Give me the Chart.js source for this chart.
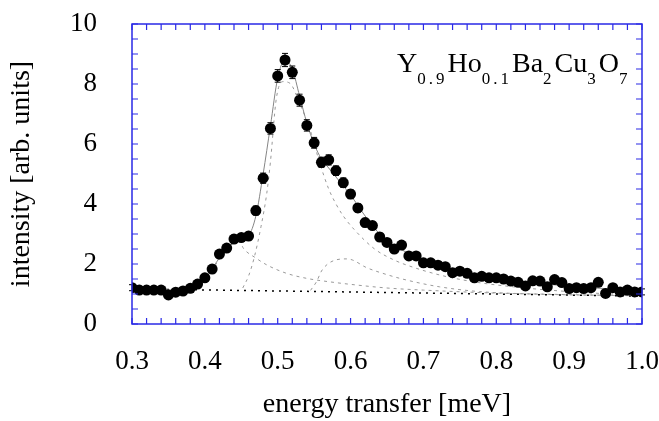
<!DOCTYPE html>
<html>
<head>
<meta charset="utf-8">
<script src="https://cdn.jsdelivr.net/npm/chart.js@4.4.1/dist/chart.umd.min.js"></script>
<style>
  body { margin: 0; background: #fff; }
  #wrap { position: relative; width: 659px; height: 421px; }
  #chart { display: block; }
  #formula {
    position: absolute; left: 397px; top: 49px;
    font-family: 'Liberation Serif', 'Times New Roman', serif;
    font-size: 28px; line-height: 28px; color: #000; white-space: nowrap;
  }
  #formula sub { font-size: 17px; vertical-align: -12px; letter-spacing: 3px; line-height: 0; }
</style>
</head>
<body>
<div id="wrap">
  <canvas id="chart" width="659" height="421"></canvas>
  <div id="formula">Y<sub>0.9</sub>Ho<sub>0.1</sub>Ba<sub>2</sub>Cu<sub>3</sub>O<sub>7</sub></div>
</div>
<script>
// measured points
const energy = [0.30,0.31,0.32,0.33,0.34,0.35,0.36,0.37,0.38,0.39,
  0.40,0.41,0.42,0.43,0.44,0.45,0.46,0.47,0.48,0.49,
  0.50,0.51,0.52,0.53,0.54,0.55,0.56,0.57,0.58,0.59,
  0.60,0.61,0.62,0.63,0.64,0.65,0.66,0.67,0.68,0.69,
  0.70,0.71,0.72,0.73,0.74,0.75,0.76,0.77,0.78,0.79,
  0.80,0.81,0.82,0.83,0.84,0.85,0.86,0.87,0.88,0.89,
  0.90,0.91,0.92,0.93,0.94,0.95,0.96,0.97,0.98,0.99,1.00];
const intensity = [1.21,1.13,1.13,1.13,1.13,0.97,1.06,1.10,1.19,1.33,
  1.54,1.83,2.33,2.53,2.83,2.88,2.93,3.78,4.86,6.52,
  8.27,8.80,8.39,7.46,6.62,6.04,5.39,5.47,5.11,4.71,
  4.33,3.87,3.38,3.28,2.90,2.72,2.50,2.63,2.27,2.27,
  2.04,2.04,1.96,1.91,1.71,1.76,1.69,1.54,1.59,1.54,
  1.54,1.50,1.43,1.39,1.27,1.44,1.43,1.24,1.48,1.38,
  1.18,1.21,1.18,1.21,1.39,1.02,1.21,1.07,1.13,1.07,1.07];
const errors = [0.10,0.10,0.10,0.10,0.10,0.10,0.10,0.10,0.10,0.10,
  0.10,0.11,0.12,0.12,0.13,0.13,0.13,0.15,0.17,0.19,
  0.21,0.22,0.21,0.20,0.19,0.18,0.17,0.17,0.16,0.16,
  0.15,0.14,0.14,0.13,0.13,0.12,0.12,0.12,0.11,0.11,
  0.11,0.11,0.11,0.10,0.10,0.10,0.10,0.10,0.10,0.10,
  0.10,0.10,0.10,0.10,0.10,0.10,0.10,0.10,0.10,0.10,
  0.10,0.10,0.10,0.10,0.10,0.10,0.10,0.10,0.10,0.10,0.10];

// total fit (solid line)
const fitE = [0.30,0.32,0.34,0.36,0.38,0.40,0.42,0.44,0.45,0.46,0.47,0.48,0.49,0.50,0.51,0.52,0.53,0.54,0.55,0.56,0.57,0.58,0.59,0.60,0.62,0.64,0.66,0.68,0.70,0.72,0.75,0.80,0.85,0.90,0.95,1.00];
const fitI = [1.17,1.15,1.14,1.13,1.18,1.50,2.20,2.72,2.85,2.95,3.60,5.00,6.60,8.20,8.80,8.50,7.60,6.70,6.00,5.50,5.20,4.90,4.60,4.30,3.60,3.00,2.62,2.35,2.12,1.95,1.75,1.52,1.38,1.26,1.18,1.10];

// fit components (dashed)
const lowE = [0.36,0.38,0.40,0.42,0.44,0.447,0.453,0.47,0.485,0.512,0.54,0.57,0.608,0.65,0.70,0.80,0.90,1.00];
const lowI = [1.14,1.19,1.50,2.15,2.72,2.78,2.52,2.20,1.97,1.69,1.52,1.41,1.30,1.20,1.13,1.03,0.98,0.94];
const mainE = [0.452,0.46,0.468,0.477,0.485,0.49,0.498,0.507,0.517,0.53,0.546,0.556,0.57,0.58,0.59,0.605,0.633,0.66,0.686,0.723,0.768,0.823,0.90,1.00];
const mainI = [1.20,1.60,2.24,3.24,4.36,5.40,7.50,8.08,8.02,7.36,6.36,5.50,4.50,4.00,3.60,3.15,2.50,2.13,1.89,1.63,1.41,1.24,1.08,0.95];
const highE = [0.545,0.553,0.561,0.579,0.595,0.603,0.621,0.644,0.676,0.722,0.777,0.85,1.00];
const highI = [1.12,1.40,1.80,2.13,2.17,2.13,1.89,1.69,1.47,1.24,1.08,1.00,0.94];

// linear background (dotted)
const bgE = [0.30,1.00];
const bgI = [1.17,0.93];

const xTicks = [0.3,0.4,0.5,0.6,0.7,0.8,0.9,1.0];

const pts = (xs, ys) => xs.map((x, i) => ({x: x, y: ys[i]}));
const serif = "'Liberation Serif', 'Times New Roman', serif";
const frameColor = '#2a2ae6';

const frame = {
  id: 'frame',
  afterDatasetsDraw(chart) {
    const {ctx, chartArea: a, scales} = chart;
    const xs = scales.x, ys = scales.y;
    ctx.save();
    // error bars
    ctx.strokeStyle = '#000';
    ctx.lineWidth = 1;
    energy.forEach((e, i) => {
      const px = xs.getPixelForValue(e);
      const top = ys.getPixelForValue(intensity[i] + errors[i]);
      const bot = ys.getPixelForValue(intensity[i] - errors[i]);
      ctx.beginPath();
      ctx.moveTo(px, top); ctx.lineTo(px, bot);
      ctx.moveTo(px - 3, top); ctx.lineTo(px + 3, top);
      ctx.moveTo(px - 3, bot); ctx.lineTo(px + 3, bot);
      ctx.stroke();
    });
    // frame with inward ticks
    ctx.strokeStyle = frameColor;
    ctx.lineWidth = 1.5;
    ctx.strokeRect(a.left, a.top, a.right - a.left, a.bottom - a.top);
    ctx.lineWidth = 1.2;
    ctx.beginPath();
    for (let k = 0; k <= 35; k++) {
      const px = xs.getPixelForValue(0.3 + k * 0.02);
      ctx.moveTo(px, a.bottom); ctx.lineTo(px, a.bottom - 6);
      ctx.moveTo(px, a.top); ctx.lineTo(px, a.top + 6);
    }
    for (let k = 0; k <= 20; k++) {
      const py = ys.getPixelForValue(k * 0.5);
      ctx.moveTo(a.left, py); ctx.lineTo(a.left + 6, py);
      ctx.moveTo(a.right, py); ctx.lineTo(a.right - 6, py);
    }
    ctx.stroke();
    ctx.restore();
  }
};

new Chart(document.getElementById('chart'), {
  type: 'scatter',
  data: {
    datasets: [
      { label: 'data', data: pts(energy, intensity), showLine: false,
        pointRadius: 5.5, pointBackgroundColor: '#000', pointBorderColor: '#000', pointBorderWidth: 0 },
      { label: 'fit', data: pts(fitE, fitI), showLine: true, borderColor: '#858585', borderWidth: 1,
        pointRadius: 0, cubicInterpolationMode: 'monotone' },
      { label: 'low', data: pts(lowE, lowI), showLine: true, borderColor: '#999', borderWidth: 1,
        borderDash: [3, 4], pointRadius: 0, cubicInterpolationMode: 'monotone' },
      { label: 'main', data: pts(mainE, mainI), showLine: true, borderColor: '#999', borderWidth: 1,
        borderDash: [3, 4], pointRadius: 0, cubicInterpolationMode: 'monotone' },
      { label: 'high', data: pts(highE, highI), showLine: true, borderColor: '#999', borderWidth: 1,
        borderDash: [3, 4], pointRadius: 0, cubicInterpolationMode: 'monotone' },
      { label: 'background', data: pts(bgE, bgI), showLine: true, borderColor: '#000', borderWidth: 1.5,
        borderDash: [2, 5], pointRadius: 0 }
    ]
  },
  options: {
    responsive: false,
    devicePixelRatio: 1,
    animation: false,
    layout: { padding: { top: 24, right: 17, left: 0, bottom: 0 } },
    plugins: { legend: { display: false }, tooltip: { enabled: false } },
    scales: {
      x: {
        type: 'linear', min: 0.3, max: 1.0,
        afterBuildTicks: (s) => { s.ticks = xTicks.map(v => ({value: v})); },
        afterFit: (s) => { s.height = 97; s.paddingLeft = 0; s.paddingRight = 0; },
        grid: { display: false, drawTicks: false },
        border: { display: false },
        ticks: { padding: 22, color: '#000', font: { family: serif, size: 27 },
          callback: (v) => v.toFixed(1) },
        title: { display: true, text: 'energy transfer [meV]', color: '#000',
          font: { family: serif, size: 28 }, padding: { top: 0, bottom: 0 } }
      },
      y: {
        min: 0, max: 10,
        afterFit: (s) => { s.width = 132; s.paddingTop = 0; s.paddingBottom = 0; },
        grid: { display: false, drawTicks: false },
        border: { display: false },
        ticks: { stepSize: 2, padding: 35, color: '#000', font: { family: serif, size: 27 } },
        title: { display: true, text: 'intensity [arb. units]', color: '#000',
          font: { family: serif, size: 28 }, padding: { top: 5, bottom: 0 } }
      }
    }
  },
  plugins: [frame]
});
</script>
</body>
</html>
